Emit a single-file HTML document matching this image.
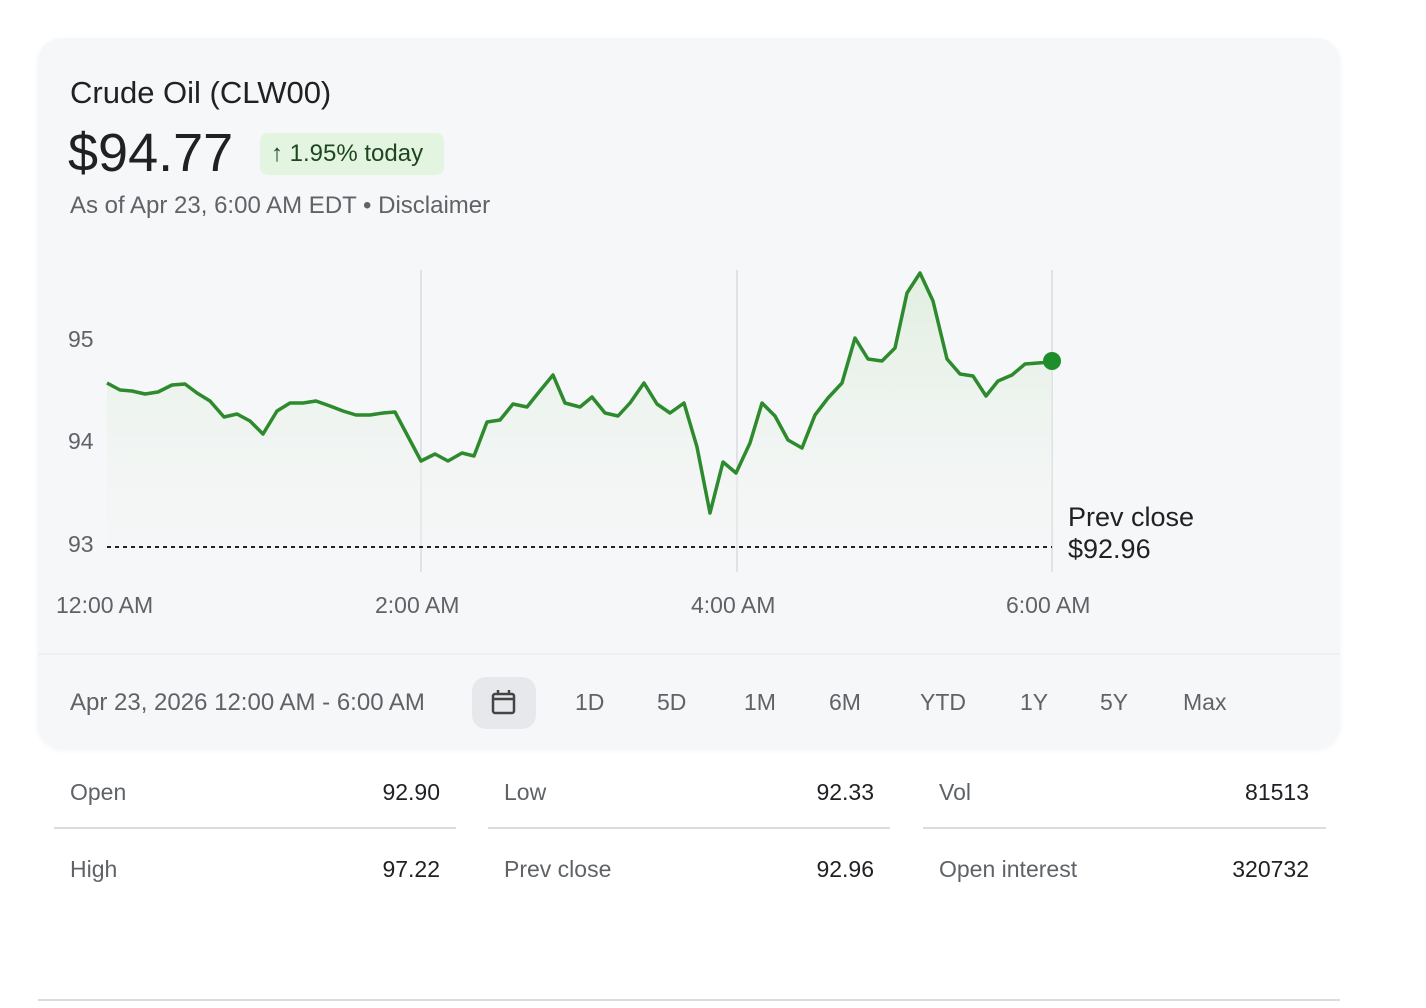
<!DOCTYPE html>
<html><head><meta charset="utf-8"><style>
body{margin:0;width:1426px;height:1008px;background:#fff;font-family:"Liberation Sans",sans-serif;position:relative;overflow:hidden}
.a{position:absolute;white-space:nowrap}
.card{position:absolute;left:38px;top:38px;width:1302px;height:710px;background:#f6f7f9;border-radius:24px;box-shadow:0 2px 6px rgba(0,0,0,0.05)}
.g{color:#5f6368}
.tab{font-size:23px;color:#5f6368;top:689px}
.lab{font-size:23px;color:#5f6368}
.val{font-size:23px;color:#202124;text-align:right}
.hr{position:absolute;height:2px;background:#dadce0}
</style></head><body>
<div class="card"></div>
<div class="a" style="left:38px;top:653px;width:1302px;height:2px;background:#eef0f2"></div>
<div class="a" style="left:70px;top:75px;font-size:31px;color:#202124">Crude Oil (CLW00)</div>
<div class="a" style="left:68px;top:122px;font-size:54px;color:#202124">$94.77</div>
<div class="a" style="left:260px;top:133px;width:184px;height:42px;background:#e3f5e1;border-radius:8px"></div>
<div class="a" style="left:271px;top:140px;font-size:24px;color:#1e4620">↑ 1.95% today</div>
<div class="a g" style="left:70px;top:192px;font-size:24px">As of Apr 23, 6:00 AM EDT • Disclaimer</div>
<svg class="a" style="left:0;top:0" width="1426" height="660">
<defs><linearGradient id="f" x1="0" y1="0" x2="0" y2="1"><stop offset="0" stop-color="#dfeedd" stop-opacity="0.9"/><stop offset="1" stop-color="#f3f5f4" stop-opacity="0.3"/></linearGradient></defs>
<g stroke="#e0e2e5" stroke-width="2"><line x1="421" y1="270" x2="421" y2="572"/><line x1="737" y1="270" x2="737" y2="572"/><line x1="1052" y1="270" x2="1052" y2="572"/></g>
<polygon fill="url(#f)" points="107,547 107,383 120,390 132,391 145,394 158,392 172,385 185,384 197,393 210,401 224,417 237,414 250,421 263,434 277,411 290,403 303,403 316,401 330,406 343,411 356,415 370,415 383,413 395,412 421,461 435,454 448,461 462,453 474,456 487,422 500,420 513,404 527,407 539,392 553,375 565,403 580,407 592,397 605,413 618,416 630,403 644,383 657,404 670,413 684,403 697,447 710,513 723,462 736,473 750,443 762,403 775,416 788,440 802,448 815,415 828,398 842,383 855,338 868,359 882,361 895,348 907,293 920,273 933,301 947,359 960,374 973,376 986,396 998,381 1012,375 1025,364 1038,363 1052,362 1052,547"/>
<line x1="107" y1="547" x2="1052" y2="547" stroke="#202124" stroke-width="2" stroke-dasharray="4,4"/>
<polyline fill="none" stroke="#2d8a2d" stroke-width="3.5" stroke-linejoin="round" points="107,383 120,390 132,391 145,394 158,392 172,385 185,384 197,393 210,401 224,417 237,414 250,421 263,434 277,411 290,403 303,403 316,401 330,406 343,411 356,415 370,415 383,413 395,412 421,461 435,454 448,461 462,453 474,456 487,422 500,420 513,404 527,407 539,392 553,375 565,403 580,407 592,397 605,413 618,416 630,403 644,383 657,404 670,413 684,403 697,447 710,513 723,462 736,473 750,443 762,403 775,416 788,440 802,448 815,415 828,398 842,383 855,338 868,359 882,361 895,348 907,293 920,273 933,301 947,359 960,374 973,376 986,396 998,381 1012,375 1025,364 1038,363 1052,362"/>
<circle cx="1052" cy="361" r="9" fill="#1e8e2a"/>
</svg>
<div class="a g" style="left:68px;top:326px;font-size:23px">95</div>
<div class="a g" style="left:68px;top:428px;font-size:23px">94</div>
<div class="a g" style="left:68px;top:531px;font-size:23px">93</div>
<div class="a" style="left:1068px;top:501px;font-size:27px;color:#202124;line-height:32px">Prev close<br>$92.96</div>
<div class="a g" style="left:56px;top:592px;font-size:23px">12:00 AM</div>
<div class="a g" style="left:375px;top:592px;font-size:23px">2:00 AM</div>
<div class="a g" style="left:691px;top:592px;font-size:23px">4:00 AM</div>
<div class="a g" style="left:1006px;top:592px;font-size:23px">6:00 AM</div>
<div class="a tab" style="left:70px;font-size:24px">Apr 23, 2026 12:00 AM - 6:00 AM</div>
<div class="a" style="left:472px;top:677px;width:64px;height:52px;background:#e6e8ec;border-radius:14px"></div>
<svg class="a" style="left:490px;top:689px" width="28" height="28"><rect x="3" y="5" width="21" height="19" rx="2" fill="none" stroke="#444" stroke-width="2.5"/><line x1="3" y1="10" x2="24" y2="10" stroke="#444" stroke-width="2.5"/><line x1="8" y1="1" x2="8" y2="6" stroke="#444" stroke-width="2.5"/><line x1="19" y1="1" x2="19" y2="6" stroke="#444" stroke-width="2.5"/></svg>
<div class="a tab" style="left:575px">1D</div>
<div class="a tab" style="left:657px">5D</div>
<div class="a tab" style="left:744px">1M</div>
<div class="a tab" style="left:829px">6M</div>
<div class="a tab" style="left:920px">YTD</div>
<div class="a tab" style="left:1020px">1Y</div>
<div class="a tab" style="left:1100px">5Y</div>
<div class="a tab" style="left:1183px">Max</div>
<div class="a lab" style="left:70px;top:779px">Open</div><div class="a val" style="left:340px;width:100px;top:779px">92.90</div>
<div class="a lab" style="left:504px;top:779px">Low</div><div class="a val" style="left:774px;width:100px;top:779px">92.33</div>
<div class="a lab" style="left:939px;top:779px">Vol</div><div class="a val" style="left:1209px;width:100px;top:779px">81513</div>
<div class="hr" style="left:54px;top:827px;width:402px"></div>
<div class="hr" style="left:488px;top:827px;width:402px"></div>
<div class="hr" style="left:923px;top:827px;width:403px"></div>
<div class="a lab" style="left:70px;top:856px">High</div><div class="a val" style="left:340px;width:100px;top:856px">97.22</div>
<div class="a lab" style="left:504px;top:856px">Prev close</div><div class="a val" style="left:774px;width:100px;top:856px">92.96</div>
<div class="a lab" style="left:939px;top:856px">Open interest</div><div class="a val" style="left:1209px;width:100px;top:856px">320732</div>
<div class="hr" style="left:38px;top:999px;width:1302px"></div>
</body></html>
